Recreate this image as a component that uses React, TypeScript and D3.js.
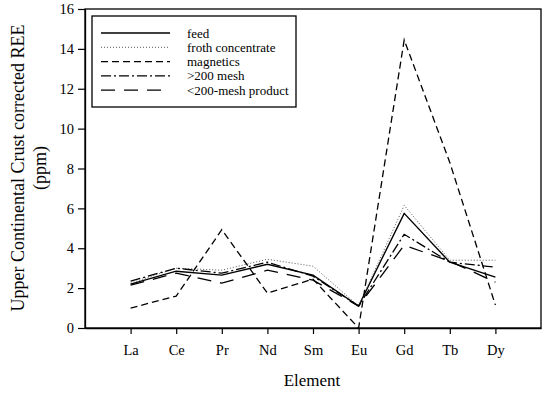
import { useRef, useEffect } from 'react'
import * as d3 from 'd3'

const elements = ['La', 'Ce', 'Pr', 'Nd', 'Sm', 'Eu', 'Gd', 'Tb', 'Dy']
const feed = [2.2, 2.85, 2.65, 3.2, 2.65, 1.1, 5.75, 3.3, 2.55]
const froth = [2.25, 3.0, 2.9, 3.45, 3.1, 1.1, 6.15, 3.4, 3.4]
const magnetics = [1.0, 1.6, 4.93, 1.75, 2.45, 0, 14.45, 8.3, 1.15]
const mesh200plus = [2.35, 3.0, 2.75, 3.3, 2.6, 1.1, 4.7, 3.3, 3.05]
const mesh200minus = [2.15, 2.75, 2.25, 2.9, 2.4, 1.1, 4.15, 3.35, 2.3]
const yTicks = [0, 2, 4, 6, 8, 10, 12, 14, 16]

const series = [
    { name: 'feed', values: feed, dash: null, width: 1.4 },
    { name: 'froth concentrate', values: froth, dash: '1,2', width: 1 },
    { name: 'magnetics', values: magnetics, dash: '7,4', width: 1.3 },
    { name: '>200 mesh', values: mesh200plus, dash: '10,3,2,3', width: 1.3 },
    { name: '<200-mesh product', values: mesh200minus, dash: '14,9', width: 1.3 },
]

const FONT = 'Liberation Serif'

const App = () => {
    const svgRef = useRef(null)

    useEffect(() => {
        const w = 550
        const h = 393
        const m = { left: 85, right: 541, top: 9, bottom: 328 }
        const svg = d3.select(svgRef.current)
        svg.selectAll('*').remove()
        svg.attr('width', w).attr('height', h)

        const x = d3.scaleLinear().domain([0, elements.length + 1]).range([m.left, m.right])
        const y = d3.scaleLinear().domain([0, 16]).range([m.bottom, m.top])

        // frame
        svg.append('rect')
            .attr('x', m.left).attr('y', m.top)
            .attr('width', m.right - m.left).attr('height', m.bottom - m.top)
            .attr('fill', 'none').attr('stroke', 'black').attr('stroke-width', 1.3)

        const xAxis = d3.axisBottom(x)
            .tickValues(d3.range(1, elements.length + 1))
            .tickFormat(i => elements[+i - 1])
            .tickSize(6).tickPadding(11).tickSizeOuter(0)
        const gx = svg.append('g').attr('transform', `translate(0, ${m.bottom})`).call(xAxis)
        const yAxis = d3.axisLeft(y).tickValues(yTicks).tickSize(7).tickPadding(4).tickSizeOuter(0)
        const gy = svg.append('g').attr('transform', `translate(${m.left}, 0)`).call(yAxis)
        for (const g of [gx, gy]) {
            g.attr('font-family', FONT)
            g.select('.domain').attr('stroke-width', 1.3)
            g.selectAll('line').attr('stroke-width', 1.2)
            g.selectAll('text').attr('font-size', 14.5).attr('fill', 'black').attr('font-family', FONT)
        }

        // lines
        const line = d3.line<number>()
            .x((d, i) => x(i + 1))
            .y(d => y(d))
        svg.selectAll('.series')
            .data(series)
            .join('path')
                .attr('d', d => line(d.values))
                .attr('fill', 'none')
                .attr('stroke', d => d.name === 'froth concentrate' ? '#555' : 'black')
                .attr('stroke-width', d => d.width)
                .attr('stroke-dasharray', d => d.dash)

        // legend
        const lg = svg.append('g')
        lg.append('rect').attr('x', 92).attr('y', 16).attr('width', 204).attr('height', 91)
            .attr('fill', 'white').attr('stroke', 'black').attr('stroke-width', 1.3)
        series.forEach((s, i) => {
            const ly = 33 + i * 14.3
            lg.append('line').attr('x1', 101).attr('x2', 170).attr('y1', ly).attr('y2', ly)
                .attr('stroke', s.name === 'froth concentrate' ? '#555' : 'black')
                .attr('stroke-width', s.width).attr('stroke-dasharray', s.dash)
            lg.append('text').attr('x', 187).attr('y', ly + 4.5)
                .attr('font-family', FONT).attr('font-size', 13).text(s.name)
        })

        // axis titles
        svg.append('text').attr('x', (m.left + m.right) / 2 - 1).attr('y', 386)
            .attr('font-family', FONT)
            .attr('text-anchor', 'middle').attr('font-size', 17).text('Element')
        const yt = svg.append('text').attr('transform', 'translate(0, 168) rotate(-90)')
            .attr('font-family', FONT)
            .attr('text-anchor', 'middle').attr('font-size', 18)
        yt.append('tspan').attr('x', 0).attr('y', 24).text('Upper Continental Crust corrected REE')
        yt.append('tspan').attr('x', 0).attr('y', 46).text('(ppm)')
    }, [])

    return (
        <div style={{ position: 'absolute', left: 0, top: 0 }}>
            <svg ref={svgRef} style={{ display: 'block' }}></svg>
        </div>
    )
}

export default App
